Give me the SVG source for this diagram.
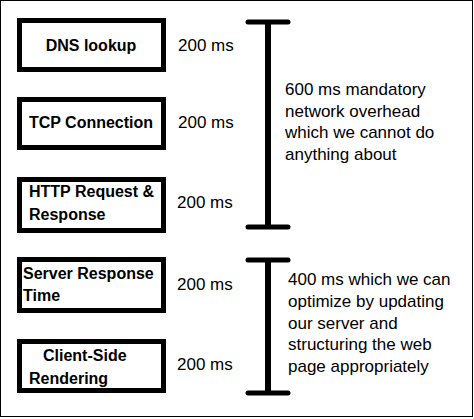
<svg xmlns="http://www.w3.org/2000/svg" width="474" height="419" viewBox="0 0 474 419">
<style>
.box{fill:#fff;stroke:#000;stroke-width:5}
.lbl{font-family:"Liberation Sans",Arial,sans-serif;font-weight:bold;font-size:16px;fill:#000}
.ms{font-family:"Liberation Sans",Arial,sans-serif;font-size:17px;fill:#000}
.note{font-family:"Liberation Sans",Arial,sans-serif;font-size:17px;fill:#000}
.br{stroke:#000;stroke-width:5;stroke-linecap:round;fill:none}
.brv{stroke:#000;stroke-width:6;fill:none}
</style>
<rect x="0.5" y="0.5" width="472" height="416" fill="#fff" stroke="#000" stroke-width="1"/>
<g id="dns">
<rect class="box" x="19.5" y="20.5" width="144" height="49"/>
<text class="lbl" x="91" y="51" text-anchor="middle">DNS lookup</text>
<text class="ms" x="178" y="51">200 ms</text>
</g>
<g id="tcp">
<rect class="box" x="19.5" y="99.5" width="144" height="48"/>
<text class="lbl" x="91" y="128" text-anchor="middle">TCP Connection</text>
<text class="ms" x="178" y="128">200 ms</text>
</g>
<g id="http">
<rect class="box" x="19.5" y="179.5" width="144" height="51"/>
<text class="lbl" x="29" y="197">HTTP Request &amp;</text>
<text class="lbl" x="29" y="220">Response</text>
<text class="ms" x="177" y="208">200 ms</text>
</g>
<g id="server">
<rect class="box" x="19.5" y="259.5" width="144" height="51"/>
<text class="lbl" x="23" y="279">Server Response</text>
<text class="lbl" x="23" y="301">Time</text>
<text class="ms" x="177" y="290">200 ms</text>
</g>
<g id="client">
<rect class="box" x="19.5" y="341.5" width="144" height="49"/>
<text class="lbl" x="43" y="361">Client-Side</text>
<text class="lbl" x="29" y="384">Rendering</text>
<text class="ms" x="177" y="370">200 ms</text>
</g>
<g id="connectors">
<line class="brv" x1="268" y1="22" x2="268" y2="227"/>
<line class="br" x1="248" y1="22" x2="288" y2="22"/>
<line class="br" x1="248" y1="227" x2="288" y2="227"/>
<line class="brv" x1="268" y1="260" x2="268" y2="393"/>
<line class="br" x1="248" y1="260" x2="288" y2="260"/>
<line class="br" x1="248" y1="393" x2="288" y2="393"/>
</g>
<g id="note1">
<text class="note" x="285" y="95">600 ms mandatory</text>
<text class="note" x="285" y="117">network overhead</text>
<text class="note" x="285" y="138">which we cannot do</text>
<text class="note" x="285" y="160">anything about</text>
</g>
<g id="note2">
<text class="note" x="288" y="285">400 ms which we can</text>
<text class="note" x="288" y="307">optimize by updating</text>
<text class="note" x="288" y="329">our server and</text>
<text class="note" x="288" y="350">structuring the web</text>
<text class="note" x="288" y="372">page appropriately</text>
</g>
</svg>
